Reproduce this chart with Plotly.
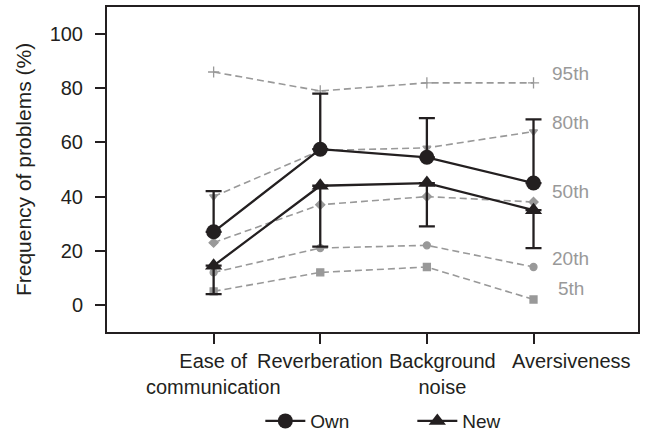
import plotly.graph_objects as go

categories = ["Ease of<br>communication", "Reverberation", "Background<br>noise", "Aversiveness"]
own = [27, 57.5, 54.5, 45]
own_upper = [42, 78, 69, 68.5]
new = [14.5, 44, 45, 35]
new_lower = [4, 21.5, 29, 21]

pct_names = ["95th", "80th", "50th", "20th", "5th"]
pct_values = {
    "95th": [86, 79, 82, 82],
    "80th": [40, 57, 58, 64],
    "50th": [23, 37, 40, 38],
    "20th": [12, 21, 22, 14],
    "5th": [5, 12, 14, 2],
}
pct_symbols = {"95th": "cross-thin", "80th": "triangle-down", "50th": "diamond",
               "20th": "circle", "5th": "square"}
pct_label_y = {"95th": 85.6, "80th": 67.5, "50th": 41.7, "20th": 17.3, "5th": 5.9}
label_xshift = [0, 0, 16, 38]

x = list(range(len(categories)))
BLACK = "#231f20"
GRAY = "#999999"
FONT = "Liberation Sans, Arial"

fig = go.Figure()
for name in pct_names:
    fig.add_trace(go.Scatter(
        x=x, y=pct_values[name], mode="lines+markers", showlegend=False,
        line=dict(color=GRAY, width=1.6, dash="7px,4px"),
        marker=dict(symbol=pct_symbols[name], size=7 if name != "95th" else 8,
                    color=GRAY, line=dict(color=GRAY, width=1.3)),
    ))

fig.add_trace(go.Scatter(
    x=x, y=own, mode="lines+markers", name="Own",
    line=dict(color=BLACK, width=2.3),
    marker=dict(symbol="circle", size=15, color=BLACK),
    error_y=dict(type="data", symmetric=False,
                 array=[u - v for u, v in zip(own_upper, own)],
                 arrayminus=[0] * len(own), color=BLACK, thickness=2.3, width=8),
))
fig.add_trace(go.Scatter(
    x=x, y=new, mode="lines+markers", name="New",
    line=dict(color=BLACK, width=2.3),
    marker=dict(symbol="triangle-up", size=15, color=BLACK),
    error_y=dict(type="data", symmetric=False,
                 array=[0] * len(new),
                 arrayminus=[v - l for v, l in zip(new, new_lower)],
                 color=BLACK, thickness=2.3, width=8),
))

for name in pct_names:
    fig.add_annotation(x=3.35, y=pct_label_y[name], text=name, showarrow=False,
                       xanchor="center", yanchor="middle",
                       font=dict(color=GRAY, size=19, family=FONT))

for xi, cat, sh in zip(x, categories, label_xshift):
    fig.add_annotation(x=xi, y=0, yref="paper", text=cat, showarrow=False,
                       xanchor="center", yanchor="top", xshift=sh, yshift=-16,
                       align="center", font=dict(color=BLACK, size=20, family=FONT))

fig.update_layout(
    width=646, height=433,
    margin=dict(l=107, r=8, t=7, b=101, autoexpand=False),
    plot_bgcolor="white", paper_bgcolor="white",
    font=dict(family=FONT, size=19, color=BLACK),
    legend=dict(orientation="h", x=0.575, xanchor="center", y=-0.274, yanchor="middle",
                font=dict(size=19), entrywidth=97, itemwidth=40),
    xaxis=dict(tickvals=x, ticktext=[""] * len(x), range=[-1, 3.98],
               showline=True, linecolor=BLACK, linewidth=2, mirror=True,
               ticks="outside", ticklen=10, tickwidth=2, tickcolor=BLACK,
               automargin=False, showgrid=False, zeroline=False),
    yaxis=dict(range=[-10, 110], tickvals=[0, 20, 40, 60, 80, 100],
               showline=True, linecolor=BLACK, linewidth=2, mirror=True,
               ticks="outside", ticklen=10, tickwidth=2, tickcolor=BLACK,
               ticklabelstandoff=8, automargin=False,
               showgrid=False, zeroline=False, tickfont=dict(size=20),
               title=dict(text="Frequency of problems (%)", font=dict(size=21), standoff=12)),
)

fig.write_html("out.html")
